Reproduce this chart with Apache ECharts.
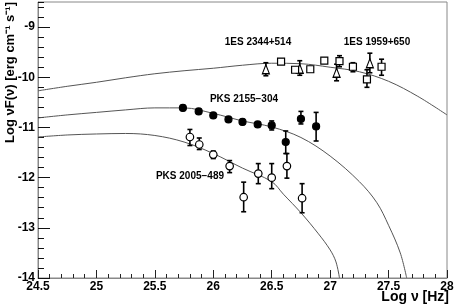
<!DOCTYPE html>
<html><head><meta charset="utf-8">
<script src="https://cdn.jsdelivr.net/npm/echarts@6/dist/echarts.min.js"></script>
<style>html,body{margin:0;padding:0;background:#fff}#c{width:457px;height:305px}</style>
</head><body><div id="c"></div>
<script>
// ---- data ----
const xTickLabels = ['24.5','25','25.5','26','26.5','27','27.5','28'];
const yTickLabels = ['-14','-13','-12','-11','-10','-9'];

// PKS 2155-304 (filled circles)
const pks2155X  = [25.74, 25.875, 26.00, 26.13, 26.25, 26.38, 26.50, 26.62, 26.75, 26.88];
const pks2155Y  = [-10.61, -10.68, -10.76, -10.84, -10.89, -10.94, -10.96, -11.29, -10.83, -10.98];
const pks2155Lo = [-10.66, -10.73, -10.81, -10.89, -10.94, -10.99, -11.05, -11.52, -10.93, -11.27];
const pks2155Hi = [-10.56, -10.63, -10.71, -10.79, -10.84, -10.89, -10.87, -11.07, -10.68, -10.70];

// PKS 2005-489 (open circles)
const pks2005X  = [25.80, 25.88, 26.00, 26.14, 26.26, 26.385, 26.50, 26.63, 26.76];
const pks2005Y  = [-11.19, -11.34, -11.54, -11.77, -12.39, -11.92, -12.00, -11.77, -12.41];
const pks2005Lo = [-11.36, -11.44, -11.62, -11.90, -12.68, -12.12, -12.22, -12.01, -12.70];
const pks2005Hi = [-11.04, -11.21, -11.47, -11.66, -12.09, -11.72, -11.72, -11.52, -12.12];

// 1ES 2344+514 (open triangles)
const es2344X  = [26.45, 26.74, 27.055, 27.34];
const es2344Y  = [-9.84, -9.83, -9.91, -9.72];
const es2344Lo = [-9.97, -9.96, -10.07, -9.91];
const es2344Hi = [-9.71, -9.67, -9.74, -9.52];

// 1ES 1959+650 (open squares)
const es1959X  = [26.58, 26.70, 26.83, 26.95, 27.08, 27.195, 27.315, 27.44];
const es1959Y  = [-9.69, -9.85, -9.84, -9.67, -9.68, -9.79, -10.04, -9.79];
const es1959Lo = [-9.74, -9.90, -9.89, -9.72, -9.79, -9.89, -10.20, -9.96];
const es1959Hi = [-9.64, -9.80, -9.79, -9.62, -9.57, -9.71, -9.85, -9.64];

// model curves
const curveTopX = [24.5, 24.75, 25.0, 25.25, 25.5, 25.75, 26.0, 26.25, 26.5, 26.75, 27.0, 27.25, 27.5, 27.75, 28.0];
const curveTopY = [-10.27, -10.18, -10.10, -10.01, -9.93, -9.87, -9.82, -9.76, -9.72, -9.73, -9.80, -9.89, -10.08, -10.38, -10.75];

const curveMidX = [24.5, 24.75, 25.0, 25.25, 25.5, 25.75, 26.0, 26.25, 26.5, 26.75, 27.0, 27.25, 27.4, 27.5, 27.6, 27.655];
const curveMidY = [-10.81, -10.75, -10.70, -10.65, -10.61, -10.61, -10.72, -10.87, -10.99, -11.20, -11.57, -12.08, -12.50, -12.95, -13.50, -14.0];

const curveLowX = [24.5, 24.75, 25.0, 25.25, 25.5, 25.75, 26.0, 26.25, 26.5, 26.6, 26.75, 26.9, 27.0, 27.05, 27.08];
const curveLowY = [-11.19, -11.15, -11.13, -11.12, -11.16, -11.29, -11.52, -11.81, -12.08, -12.33, -12.70, -13.12, -13.44, -13.68, -14.0];

// ---- build ----
const zip = (a, b) => a.map((v, i) => [v, b[i]]);
const zip3 = (a, b, c) => a.map((v, i) => [v, b[i], c[i]]);

function errSeries(xs, lo, hi) {
  return {
    type: 'custom', z: 2, silent: true,
    data: zip3(xs, lo, hi),
    renderItem: function (params, api) {
      const x = api.value(0);
      const p1 = api.coord([x, api.value(1)]);
      const p2 = api.coord([x, api.value(2)]);
      const w = 2.5;
      const st = { stroke: '#000', lineWidth: 1.6 };
      return { type: 'group', children: [
        { type: 'line', shape: { x1: p1[0], y1: p1[1], x2: p2[0], y2: p2[1] }, style: st },
        { type: 'line', shape: { x1: p1[0] - w, y1: p1[1], x2: p1[0] + w, y2: p1[1] }, style: st },
        { type: 'line', shape: { x1: p2[0] - w, y1: p2[1], x2: p2[0] + w, y2: p2[1] }, style: st }
      ]};
    }
  };
}
function curve(xs, ys) {
  return { type: 'line', data: zip(xs, ys), showSymbol: false, smooth: 0.35, z: 1,
    lineStyle: { color: '#555', width: 1 }, clip: true, silent: true };
}
function pts(xs, ys, symbol, size, fill) {
  return { type: 'scatter', data: zip(xs, ys), symbol: symbol, symbolSize: size, z: 5,
    itemStyle: { color: fill, borderColor: '#000', borderWidth: 1.2, opacity: 1 } };
}

const labelFont = { fontFamily: 'Liberation Sans, Arial, sans-serif', fontWeight: 'bold', fontSize: 12, color: '#000' };

const chart = echarts.init(document.getElementById('c'), null, { renderer: 'canvas' });
chart.setOption({
  animation: false,
  backgroundColor: '#fff',
  grid: { left: 38, right: 10, top: 2, bottom: 27, show: true, borderColor: '#888', borderWidth: 1 },
  xAxis: {
    type: 'value', min: 24.5, max: 28, interval: 0.5,
    axisLine: { show: true, lineStyle: { color: '#888', width: 1 } },
    axisTick: { show: true, inside: true, length: 8, lineStyle: { color: '#222', width: 1 } },
    minorTick: { show: true, splitNumber: 5, length: 4, lineStyle: { color: '#222', width: 1 } },
    splitLine: { show: false },
    axisLabel: Object.assign({ margin: 3, formatter: v => {
      const i = Math.round((v - 24.5) / 0.5); return xTickLabels[i] || ''; } }, labelFont)
  },
  yAxis: [{
    type: 'value', min: -14, max: -8.5, interval: 1,
    axisLine: { show: true, lineStyle: { color: '#888', width: 1 } },
    axisTick: { show: true, inside: true, length: 12, lineStyle: { color: '#111', width: 1 } },
    splitLine: { show: false },
    axisLabel: Object.assign({ margin: 3, showMaxLabel: false, formatter: v => {
      if (Math.abs(v - Math.round(v)) > 1e-6) return '';
      const i = Math.round(v + 14); return yTickLabels[i] || ''; } }, labelFont)
  }, {
    type: 'value', min: -14, max: -8.5, interval: 0.2, position: 'left',
    axisLine: { show: false },
    axisTick: { show: true, inside: true, length: 6, lineStyle: { color: '#111', width: 1 } },
    splitLine: { show: false },
    axisLabel: { show: false }
  }],
  series: [
    curve(curveTopX, curveTopY),
    curve(curveMidX, curveMidY),
    curve(curveLowX, curveLowY),
    errSeries(pks2155X, pks2155Lo, pks2155Hi),
    errSeries(pks2005X, pks2005Lo, pks2005Hi),
    errSeries(es2344X, es2344Lo, es2344Hi),
    errSeries(es1959X, es1959Lo, es1959Hi),
    Object.assign(pts(pks2155X, pks2155Y, 'circle', 7, '#000'), { name: 'PKS 2155-304' }),
    Object.assign(pts(pks2005X, pks2005Y, 'circle', 7.5, '#fff'), { name: 'PKS 2005-489' }),
    Object.assign(pts(es2344X, es2344Y, 'triangle', [7, 9], '#fff'), { name: '1ES 2344+514' }),
    Object.assign(pts(es1959X, es1959Y, 'rect', 7, '#fff'), { name: '1ES 1959+650' })
  ],
  graphic: [
    { type: 'text', x: 10, y: 2, rotation: Math.PI / 2, z: 10,
      style: { text: 'Log \u03bdF(\u03bd) [erg cm\u207b\u00b9 s\u207b\u00b9]', align: 'right', verticalAlign: 'middle',
        font: 'bold 13px "Liberation Sans", Arial, sans-serif', fill: '#000' } },
    { type: 'text', x: 449, y: 297, z: 10,
      style: { text: 'Log \u03bd [Hz]', align: 'right', verticalAlign: 'middle',
        font: 'bold 14px "Liberation Sans", Arial, sans-serif', fill: '#000' } },
    { type: 'text', x: 258, y: 42, z: 10,
      style: { text: '1ES 2344+514', align: 'center', verticalAlign: 'middle',
        font: 'bold 10px "Liberation Sans", Arial, sans-serif', fill: '#000' } },
    { type: 'text', x: 377, y: 42, z: 10,
      style: { text: '1ES 1959+650', align: 'center', verticalAlign: 'middle',
        font: 'bold 10px "Liberation Sans", Arial, sans-serif', fill: '#000' } },
    { type: 'text', x: 244, y: 99, z: 10,
      style: { text: 'PKS 2155\u2212304', align: 'center', verticalAlign: 'middle',
        font: 'bold 10px "Liberation Sans", Arial, sans-serif', fill: '#000' } },
    { type: 'text', x: 190, y: 176, z: 10,
      style: { text: 'PKS 2005\u2212489', align: 'center', verticalAlign: 'middle',
        font: 'bold 10px "Liberation Sans", Arial, sans-serif', fill: '#000' } }
  ]
});
</script>
</body></html>
